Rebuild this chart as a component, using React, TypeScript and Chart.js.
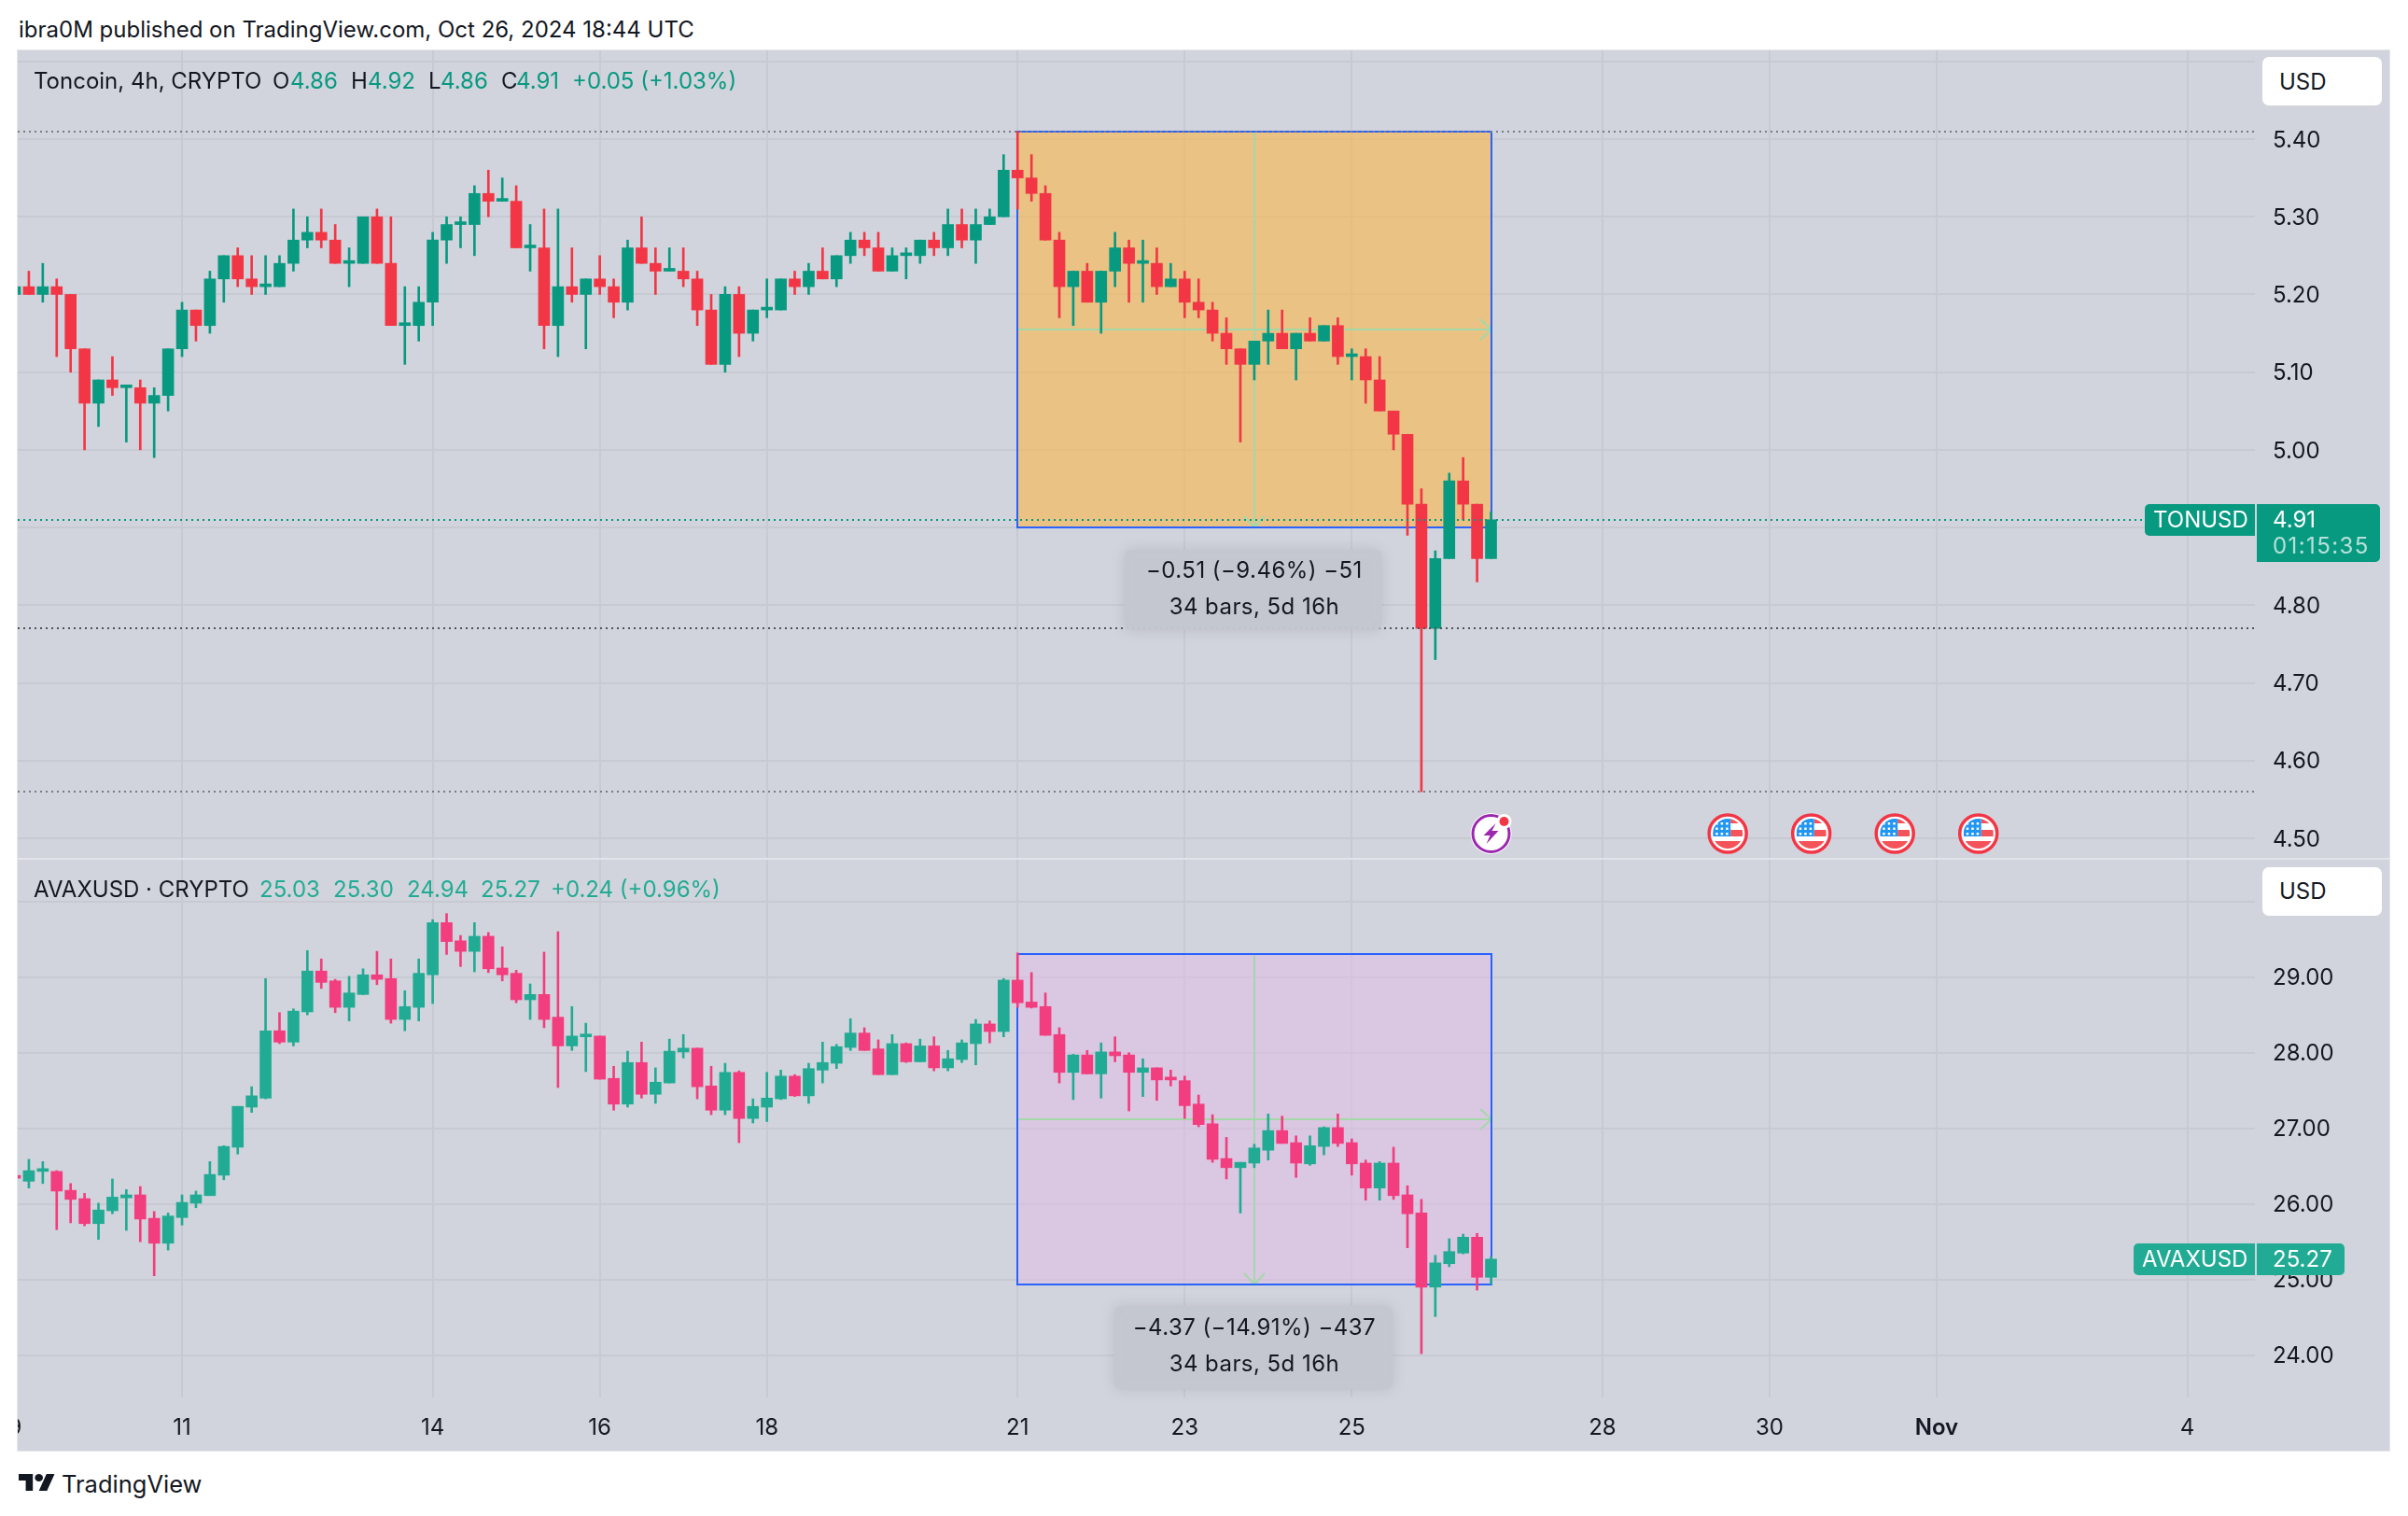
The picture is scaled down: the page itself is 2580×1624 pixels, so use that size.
import React, { useEffect, useRef } from "react";
import { Chart, registerables } from "chart.js";

Chart.register(...registerables);
Chart.defaults.font.family = "Inter, 'Noto Sans', sans-serif";

type Candle = [number, number, number, number];

// open, high, low, close
const tonCandles: Candle[] = [
  [5.20,5.21,5.20,5.21],[5.21,5.23,5.20,5.20],[5.20,5.24,5.19,5.21],[5.21,5.22,5.12,5.20],[5.20,5.20,5.10,5.13],
  [5.13,5.13,5.00,5.06],[5.06,5.09,5.03,5.09],[5.09,5.12,5.07,5.08],[5.08,5.08,5.01,5.08],[5.08,5.09,5.00,5.06],
  [5.06,5.08,4.99,5.07],[5.07,5.13,5.05,5.13],[5.13,5.19,5.12,5.18],[5.18,5.18,5.14,5.16],[5.16,5.23,5.15,5.22],
  [5.22,5.25,5.19,5.25],[5.25,5.26,5.21,5.22],[5.22,5.25,5.20,5.21],[5.21,5.25,5.20,5.21],[5.21,5.25,5.21,5.24],
  [5.24,5.31,5.23,5.27],[5.27,5.30,5.26,5.28],[5.28,5.31,5.26,5.27],[5.27,5.29,5.24,5.24],[5.24,5.26,5.21,5.24],
  [5.24,5.30,5.24,5.30],[5.30,5.31,5.24,5.24],[5.24,5.30,5.16,5.16],[5.16,5.21,5.11,5.16],[5.16,5.21,5.14,5.19],
  [5.19,5.28,5.16,5.27],[5.27,5.30,5.24,5.29],[5.29,5.30,5.26,5.29],[5.29,5.34,5.25,5.33],[5.33,5.36,5.30,5.32],
  [5.32,5.35,5.32,5.32],[5.32,5.34,5.26,5.26],[5.26,5.29,5.23,5.26],[5.26,5.31,5.13,5.16],[5.16,5.31,5.12,5.21],
  [5.21,5.26,5.19,5.20],[5.20,5.22,5.13,5.22],[5.22,5.25,5.20,5.21],[5.21,5.22,5.17,5.19],[5.19,5.27,5.18,5.26],
  [5.26,5.30,5.24,5.24],[5.24,5.26,5.20,5.23],[5.23,5.26,5.23,5.23],[5.23,5.26,5.21,5.22],[5.22,5.23,5.16,5.18],
  [5.18,5.20,5.11,5.11],[5.11,5.21,5.10,5.20],[5.20,5.21,5.12,5.15],[5.15,5.18,5.14,5.18],[5.18,5.22,5.17,5.18],
  [5.18,5.22,5.18,5.22],[5.22,5.23,5.20,5.21],[5.21,5.24,5.20,5.23],[5.23,5.26,5.22,5.22],[5.22,5.25,5.21,5.25],
  [5.25,5.28,5.24,5.27],[5.27,5.28,5.25,5.26],[5.26,5.28,5.23,5.23],[5.23,5.26,5.23,5.25],[5.25,5.26,5.22,5.25],
  [5.25,5.27,5.24,5.27],[5.27,5.28,5.25,5.26],[5.26,5.31,5.25,5.29],[5.29,5.31,5.26,5.27],[5.27,5.31,5.24,5.29],
  [5.29,5.31,5.29,5.30],[5.30,5.38,5.30,5.36],[5.36,5.41,5.31,5.35],[5.35,5.38,5.32,5.33],[5.33,5.34,5.27,5.27],
  [5.27,5.28,5.17,5.21],[5.21,5.23,5.16,5.23],[5.23,5.24,5.19,5.19],[5.19,5.23,5.15,5.23],[5.23,5.28,5.21,5.26],
  [5.26,5.27,5.19,5.24],[5.24,5.27,5.19,5.24],[5.24,5.26,5.20,5.21],[5.21,5.24,5.21,5.22],[5.22,5.23,5.17,5.19],
  [5.19,5.22,5.17,5.18],[5.18,5.19,5.14,5.15],[5.15,5.17,5.11,5.13],[5.13,5.13,5.01,5.11],[5.11,5.14,5.09,5.14],
  [5.14,5.18,5.11,5.15],[5.15,5.18,5.13,5.13],[5.13,5.15,5.09,5.15],[5.15,5.17,5.14,5.14],[5.14,5.16,5.14,5.16],
  [5.16,5.17,5.11,5.12],[5.12,5.13,5.09,5.12],[5.12,5.13,5.06,5.09],[5.09,5.12,5.05,5.05],[5.05,5.05,5.00,5.02],
  [5.02,5.02,4.89,4.93],[4.93,4.95,4.56,4.77],[4.77,4.87,4.73,4.86],[4.86,4.97,4.86,4.96],[4.96,4.99,4.91,4.93],
  [4.93,4.93,4.83,4.86],[4.86,4.92,4.86,4.91],
];

const avaxCandles: Candle[] = [
  [26.35,26.36,26.32,26.34],[26.30,26.59,26.21,26.44],[26.43,26.56,26.27,26.45],[26.43,26.44,25.66,26.17],[26.18,26.27,25.75,26.06],
  [26.07,26.14,25.71,25.74],[25.74,26.01,25.53,25.92],[25.91,26.33,25.87,26.09],[26.08,26.19,25.65,26.12],[26.12,26.23,25.50,25.80],
  [25.81,25.90,25.05,25.48],[25.48,25.88,25.39,25.84],[25.82,26.12,25.72,26.02],[26.01,26.17,25.95,26.12],[26.11,26.56,26.11,26.39],
  [26.38,26.77,26.32,26.76],[26.75,27.29,26.66,27.29],[27.28,27.55,27.21,27.43],[27.40,28.98,27.39,28.29],[28.29,28.53,28.12,28.14],
  [28.14,28.58,28.09,28.55],[28.54,29.35,28.50,29.08],[29.08,29.24,28.85,28.93],[28.95,28.97,28.53,28.60],[28.60,29.01,28.42,28.79],
  [28.77,29.11,28.77,29.03],[29.03,29.34,28.90,28.97],[28.98,29.24,28.39,28.44],[28.44,28.82,28.29,28.61],[28.60,29.24,28.42,29.05],
  [29.03,29.76,28.65,29.72],[29.72,29.84,29.30,29.47],[29.48,29.55,29.14,29.34],[29.34,29.72,29.07,29.54],[29.54,29.59,29.06,29.11],
  [29.12,29.40,28.95,29.03],[29.05,29.09,28.66,28.70],[28.70,28.91,28.44,28.77],[28.77,29.33,28.33,28.44],[28.47,29.60,27.54,28.09],
  [28.09,28.61,28.03,28.22],[28.21,28.39,27.75,28.23],[28.22,28.22,27.65,27.65],[27.66,27.82,27.24,27.32],[27.32,28.02,27.28,27.87],
  [27.87,28.14,27.40,27.45],[27.45,27.80,27.33,27.61],[27.60,28.18,27.60,28.02],[28.01,28.24,27.93,28.06],[28.06,28.06,27.39,27.55],
  [27.56,27.82,27.18,27.24],[27.24,27.86,27.18,27.74],[27.74,27.76,26.81,27.13],[27.13,27.39,27.07,27.29],[27.28,27.74,27.09,27.40],
  [27.39,27.77,27.38,27.69],[27.69,27.71,27.42,27.43],[27.43,27.86,27.33,27.79],[27.77,28.14,27.60,27.87],[27.86,28.11,27.79,28.08],
  [28.07,28.45,28.03,28.26],[28.26,28.33,28.03,28.03],[28.05,28.17,27.71,27.71],[27.71,28.24,27.71,28.12],[28.12,28.13,27.87,27.88],
  [27.88,28.18,27.88,28.09],[28.09,28.21,27.76,27.80],[27.80,28.03,27.76,27.92],[27.91,28.17,27.87,28.13],[28.12,28.44,27.84,28.38],
  [28.38,28.42,28.13,28.28],[28.28,28.98,28.21,28.96],[28.96,29.32,28.60,28.66],[28.67,29.06,28.59,28.60],[28.61,28.79,28.23,28.23],
  [28.24,28.33,27.60,27.74],[27.74,27.98,27.38,27.97],[27.97,28.03,27.72,27.72],[27.72,28.13,27.40,28.01],[28.01,28.21,27.88,27.96],
  [27.97,28.00,27.23,27.74],[27.74,27.92,27.42,27.80],[27.80,27.80,27.37,27.64],[27.66,27.77,27.56,27.64],[27.63,27.69,27.13,27.30],
  [27.32,27.44,27.02,27.05],[27.06,27.18,26.55,26.59],[26.60,26.88,26.33,26.48],[26.48,26.55,25.88,26.55],[26.54,26.79,26.48,26.74],
  [26.71,27.19,26.58,26.97],[26.97,27.16,26.80,26.80],[26.81,26.90,26.35,26.54],[26.53,26.90,26.51,26.77],[26.76,27.02,26.65,27.01],
  [27.01,27.19,26.76,26.80],[26.81,26.86,26.38,26.53],[26.54,26.58,26.05,26.21],[26.21,26.56,26.05,26.54],[26.54,26.75,26.06,26.11],
  [26.12,26.24,25.42,25.87],[25.88,26.06,24.02,24.90],[24.90,25.32,24.51,25.22],[25.21,25.54,25.17,25.37],[25.35,25.60,25.34,25.56],
  [25.56,25.61,24.86,25.03],[25.03,25.30,24.94,25.27],
];

const tonTicks = [5.5, 5.4, 5.3, 5.2, 5.1, 5.0, 4.9, 4.8, 4.7, 4.6, 4.5];
const avaxTicks = [30, 29, 28, 27, 26, 25, 24];
const xTickBars = [0, 12, 30, 42, 54, 72, 84, 96, 114, 126, 138, 156];
const xTickLabels = ["9", "11", "14", "16", "18", "21", "23", "25", "28", "30", "Nov", "4"];

const rangeStartBar = 72;
const rangeEndBar = 106;
const tonRange = [5.41, 4.9];
const avaxRange = [29.3, 24.93];
const tonDotted: [number, string][] = [[5.41, "#787b86"], [4.77, "#50535e"], [4.56, "#787b86"]];
const flagBars = [123, 129, 135, 141];
const boltBar = 106;

// pixel geometry of the page
const PANEL = { left: 19, top: 54, right: 2560, bottom: 1554 };
const PLOT_RIGHT = 2416;
const BAR_ORIGIN = 16;
const BAR_STEP = 14.92;
const AXIS_W = PANEL.right - PLOT_RIGHT;
const xMin = (PANEL.left - BAR_ORIGIN) / BAR_STEP;
const xMax = (PLOT_RIGHT - BAR_ORIGIN) / BAR_STEP;
const TEXT = "#131722";
const GRID = "#c7cad3";
const FONT = "24px Inter, sans-serif";

type Pane = {
  candles: Candle[];
  up: string;
  down: string;
  ticks: number[];
  hiddenTick: number;
  min: number;
  max: number;
  range: number[];
  fill: string;
  dotted: [number, string][];
  tagName: string;
  tagLeft: number;
  tagColor: string;
  tagValueW: number;
  countdown?: string;
  priceLine: boolean;
  box: { lines: string[]; left: number; right: number; gap: number; h: number };
  events: boolean;
  showX: boolean;
};

function drawFlag(ctx: CanvasRenderingContext2D, x: number, y: number) {
  ctx.save();
  ctx.beginPath();
  ctx.arc(x, y, 20, 0, Math.PI * 2);
  ctx.fillStyle = "#ffffff";
  ctx.fill();
  ctx.lineWidth = 3.5;
  ctx.strokeStyle = "#f23645";
  ctx.stroke();
  ctx.beginPath();
  ctx.arc(x, y, 16, 0, Math.PI * 2);
  ctx.clip();
  ctx.fillStyle = "#f4535a";
  ctx.fillRect(x + 3, y - 16, 14, 5);
  ctx.fillRect(x + 3, y - 4, 14, 7);
  ctx.fillRect(x - 16, y + 8, 32, 8);
  ctx.fillStyle = "#2196f3";
  ctx.fillRect(x - 16, y - 16, 19, 19);
  ctx.fillStyle = "#ffffff";
  for (let r = 0; r < 3; r++) {
    for (let c = 0; c < 3; c++) {
      ctx.fillRect(x - 13 + c * 5.5, y - 12 + r * 5.5, 2.5, 2.5);
    }
  }
  ctx.restore();
}

function drawBolt(ctx: CanvasRenderingContext2D, x: number, y: number) {
  ctx.save();
  ctx.beginPath();
  ctx.arc(x, y, 22, 0, Math.PI * 2);
  ctx.fillStyle = "#ffffff";
  ctx.fill();
  ctx.beginPath();
  ctx.arc(x, y, 19.5, 0, Math.PI * 2);
  ctx.lineWidth = 3;
  ctx.strokeStyle = "#9c27b0";
  ctx.stroke();
  ctx.beginPath();
  const pts = [[5, -11], [-8, 2], [-1, 2], [-5, 11], [8, -3], [1, -3]];
  pts.forEach(([a, b], i) => (i ? ctx.lineTo(x + a, y + b) : ctx.moveTo(x + a, y + b)));
  ctx.closePath();
  ctx.fillStyle = "#9c27b0";
  ctx.fill();
  ctx.beginPath();
  ctx.arc(x + 14, y - 13, 8, 0, Math.PI * 2);
  ctx.fillStyle = "#ffffff";
  ctx.fill();
  ctx.beginPath();
  ctx.arc(x + 14, y - 13, 5, 0, Math.PI * 2);
  ctx.fillStyle = "#f23645";
  ctx.fill();
  ctx.restore();
}

function overlayPlugin(pane: Pane) {
  return {
    id: "overlay",
    beforeDatasetsDraw(chart: any) {
      const { ctx, scales } = chart;
      const x0 = Math.round(scales.x.getPixelForValue(rangeStartBar));
      const x1 = Math.round(scales.x.getPixelForValue(rangeEndBar));
      const y0 = Math.round(scales.y.getPixelForValue(pane.range[0]));
      const y1 = Math.round(scales.y.getPixelForValue(pane.range[1]));
      const xm = Math.round((x0 + x1) / 2);
      const ym = Math.round((y0 + y1) / 2);
      ctx.save();
      ctx.fillStyle = pane.fill;
      ctx.fillRect(x0, y0, x1 - x0, y1 - y0);
      ctx.strokeStyle = "#a3d9a8";
      ctx.lineWidth = 2;
      ctx.beginPath();
      ctx.moveTo(x0, ym);
      ctx.lineTo(x1, ym);
      ctx.moveTo(x1 - 12, ym - 11);
      ctx.lineTo(x1, ym);
      ctx.lineTo(x1 - 12, ym + 11);
      ctx.moveTo(xm, y0);
      ctx.lineTo(xm, y1);
      ctx.moveTo(xm - 11, y1 - 12);
      ctx.lineTo(xm, y1);
      ctx.lineTo(xm + 11, y1 - 12);
      ctx.stroke();
      ctx.strokeStyle = "#2962ff";
      ctx.strokeRect(x0, y0, x1 - x0, y1 - y0);
      ctx.restore();
    },
    afterDatasetsDraw(chart: any) {
      const { ctx, scales, chartArea } = chart;
      const toChartX = (px: number) => px - PANEL.left;
      ctx.save();
      ctx.lineWidth = 2;
      ctx.setLineDash([2, 4]);
      pane.dotted.forEach(([v, color]) => {
        const y = Math.round(scales.y.getPixelForValue(v));
        ctx.strokeStyle = color;
        ctx.beginPath();
        ctx.moveTo(chartArea.left, y);
        ctx.lineTo(chartArea.right, y);
        ctx.stroke();
      });
      const last = pane.candles[pane.candles.length - 1];
      const closeY = scales.y.getPixelForValue(last[3]);
      const tagX = toChartX(pane.tagLeft);
      if (pane.priceLine) {
        ctx.strokeStyle = pane.tagColor;
        ctx.beginPath();
        ctx.moveTo(chartArea.left, Math.round(closeY));
        ctx.lineTo(tagX, Math.round(closeY));
        ctx.stroke();
      }
      ctx.setLineDash([]);

      // measurement label box
      const xm = scales.x.getPixelForValue((rangeStartBar + rangeEndBar) / 2);
      const boxTop = scales.y.getPixelForValue(pane.range[1]) + pane.box.gap;
      ctx.save();
      ctx.shadowColor = "rgba(140,143,155,0.35)";
      ctx.shadowBlur = 14;
      ctx.fillStyle = "rgba(196,199,208,0.95)";
      ctx.beginPath();
      ctx.roundRect(toChartX(pane.box.left), boxTop, pane.box.right - pane.box.left, pane.box.h, 6);
      ctx.fill();
      ctx.restore();
      ctx.font = FONT;
      ctx.fillStyle = TEXT;
      ctx.textAlign = "center";
      ctx.textBaseline = "middle";
      ctx.letterSpacing = "0.45px";
      pane.box.lines.forEach((t, i) => ctx.fillText(t, xm, boxTop + 23 + i * 39));
      ctx.letterSpacing = "0px";

      // price tag on the axis
      const tagTop = Math.round(closeY) - 17;
      const axisLeft = toChartX(PLOT_RIGHT + 2);
      ctx.fillStyle = pane.tagColor;
      ctx.beginPath();
      ctx.roundRect(tagX, tagTop, toChartX(PLOT_RIGHT) - tagX, 34, [5, 0, 0, 5]);
      ctx.fill();
      ctx.beginPath();
      ctx.roundRect(axisLeft, tagTop, pane.tagValueW, pane.countdown ? 62 : 34, [0, 5, 5, 0]);
      ctx.fill();
      ctx.fillStyle = "#ffffff";
      ctx.textAlign = "left";
      ctx.fillText(pane.tagName, tagX + 9, tagTop + 18);
      ctx.fillText(last[3].toFixed(2), axisLeft + 17, tagTop + 18);
      if (pane.countdown) {
        ctx.fillStyle = "rgba(255,255,255,0.7)";
        ctx.letterSpacing = "1.4px";
        ctx.fillText(pane.countdown, axisLeft + 17, tagTop + 46);
        ctx.letterSpacing = "0px";
      }

      if (pane.events) {
        const y = 893 - PANEL.top;
        drawBolt(ctx, scales.x.getPixelForValue(boltBar), y);
        flagBars.forEach((b) => drawFlag(ctx, scales.x.getPixelForValue(b), y));
      }
      ctx.restore();
    },
  };
}

const noPadding = (s: any) => {
  s.paddingLeft = 0;
  s.paddingRight = 0;
  s.paddingTop = 0;
  s.paddingBottom = 0;
};

function PaneChart({ pane, top, height }: { pane: Pane; top: number; height: number }) {
  const ref = useRef<HTMLCanvasElement>(null);
  useEffect(() => {
    const colors = pane.candles.map((c) => (c[3] >= c[0] ? pane.up : pane.down));
    const chart = new Chart(ref.current as HTMLCanvasElement, {
      type: "bar",
      data: {
        datasets: [
          {
            label: "body",
            data: pane.candles.map((c, i) => ({ x: i, y: [c[0], c[3]] })),
            backgroundColor: colors,
            barThickness: 12,
            minBarLength: 3,
            grouped: false,
          } as any,
          {
            label: "wick",
            data: pane.candles.map((c, i) => ({ x: i, y: [c[2], c[1]] })),
            backgroundColor: colors,
            barThickness: 2,
            grouped: false,
          } as any,
        ],
      },
      options: {
        responsive: false,
        animation: false,
        devicePixelRatio: 1,
        layout: { autoPadding: false, padding: 0 },
        plugins: { legend: { display: false }, tooltip: { enabled: false } },
        scales: {
          x: {
            type: "linear",
            min: xMin,
            max: xMax,
            offset: false,
            grid: { color: GRID, lineWidth: 2, tickLength: 0, offset: false },
            border: { display: false },
            afterBuildTicks: (s: any) => {
              s.ticks = xTickBars.map((v) => ({ value: v }));
            },
            afterFit: (s: any) => {
              s.height = pane.showX ? 57 : 0;
              noPadding(s);
            },
            ticks: {
              display: pane.showX,
              autoSkip: false,
              maxRotation: 0,
              padding: 18,
              color: TEXT,
              font: (c: any) => ({ size: 24, weight: c.tick && c.tick.label === "Nov" ? 600 : 400 }),
              callback: (v: any) => xTickLabels[xTickBars.indexOf(Number(v))],
            },
          },
          y: {
            type: "linear",
            position: "right",
            min: pane.min,
            max: pane.max,
            grid: { color: GRID, lineWidth: 2, tickLength: 0 },
            border: { display: false },
            afterBuildTicks: (s: any) => {
              s.ticks = pane.ticks.map((v) => ({ value: v }));
            },
            afterFit: (s: any) => {
              s.width = AXIS_W;
              noPadding(s);
            },
            ticks: {
              autoSkip: false,
              padding: 19,
              labelOffset: 1.5,
              color: TEXT,
              font: { size: 24 },
              callback: (v: any) => (Number(v) === pane.hiddenTick ? "" : Number(v).toFixed(2)),
            },
          },
        },
      } as any,
      plugins: [overlayPlugin(pane)],
    });
    return () => chart.destroy();
  }, [pane]);
  return (
    <canvas
      ref={ref}
      width={PANEL.right - PANEL.left}
      height={height}
      style={{ position: "absolute", left: PANEL.left, top, width: PANEL.right - PANEL.left, height }}
    />
  );
}

const tonPane: Pane = {
  candles: tonCandles,
  up: "#089981",
  down: "#f23645",
  ticks: tonTicks,
  hiddenTick: 5.5,
  min: 5.4 - (919 - 149) / 832.2,
  max: 5.4 + (149 - 54) / 832.2,
  range: tonRange,
  fill: "rgba(249,182,73,0.6)",
  dotted: tonDotted,
  tagName: "TONUSD",
  tagLeft: 2298,
  tagColor: "#089981",
  tagValueW: 132,
  countdown: "01:15:35",
  priceLine: true,
  box: { lines: ["−0.51 (−9.46%) −51", "34 bars, 5d 16h"], left: 1205, right: 1480, gap: 24, h: 86 },
  events: true,
  showX: false,
};

const avaxPane: Pane = {
  candles: avaxCandles,
  up: "#22ab94",
  down: "#f23d7e",
  ticks: avaxTicks,
  hiddenTick: 30,
  min: 29 - (1497 - 1046.7) / 81,
  max: 29 + (1046.7 - 921) / 81,
  range: avaxRange,
  fill: "rgba(227,186,232,0.5)",
  dotted: [],
  tagName: "AVAXUSD",
  tagLeft: 2286,
  tagColor: "#22ab94",
  tagValueW: 94,
  priceLine: false,
  box: { lines: ["−4.37 (−14.91%) −437", "34 bars, 5d 16h"], left: 1194, right: 1492, gap: 23, h: 89 },
  events: false,
  showX: true,
};

function Label({ x, y, text, color = TEXT, size = 24 }: { x: number; y: number; text: string; color?: string; size?: number }) {
  return (
    <span
      style={{
        position: "absolute",
        left: x,
        top: y,
        transform: "translateY(-50%)",
        color,
        fontFamily: "Inter, sans-serif",
        fontSize: size,
        lineHeight: 1,
        whiteSpace: "nowrap",
      }}
    >
      {text}
    </span>
  );
}

function UsdButton({ top, textY }: { top: number; textY: number }) {
  return (
    <div
      style={{
        position: "absolute",
        left: 2424,
        top,
        width: 128,
        height: 52,
        borderRadius: 7,
        background: "#ffffff",
      }}
    >
      <Label x={18} y={textY} text="USD" />
    </div>
  );
}

export default function App() {
  const g1 = "#089981";
  const g2 = "#22ab94";
  return (
    <div style={{ position: "absolute", left: 0, top: 0, width: 2580, height: 1624, background: "#ffffff", overflow: "hidden" }}>
      <Label x={20} y={32} text="ibra0M published on TradingView.com, Oct 26, 2024 18:44 UTC" />
      <div
        style={{
          position: "absolute",
          left: PANEL.left,
          top: PANEL.top,
          width: PANEL.right - PANEL.left,
          height: PANEL.bottom - PANEL.top,
          background: "#d1d4dc",
          boxShadow: "0 0 0 1px #e4e6ec",
        }}
      />
      <PaneChart pane={tonPane} top={54} height={865} />
      <div style={{ position: "absolute", left: PANEL.left, top: 919, width: PANEL.right - PANEL.left, height: 2, background: "#e2e4ea" }} />
      <PaneChart pane={avaxPane} top={921} height={633} />

      <Label x={36} y={87} text="Toncoin, 4h, CRYPTO" />
      <Label x={292} y={87} text="O" />
      <Label x={311} y={87} text="4.86" color={g1} />
      <Label x={376} y={87} text="H" />
      <Label x={394} y={87} text="4.92" color={g1} />
      <Label x={459} y={87} text="L" />
      <Label x={472} y={87} text="4.86" color={g1} />
      <Label x={537} y={87} text="C" />
      <Label x={553} y={87} text="4.91" color={g1} />
      <Label x={613} y={87} text="+0.05 (+1.03%)" color={g1} />

      <Label x={36} y={953} text="AVAXUSD · CRYPTO" />
      <Label x={278} y={953} text="25.03" color={g2} />
      <Label x={357} y={953} text="25.30" color={g2} />
      <Label x={436} y={953} text="24.94" color={g2} />
      <Label x={515} y={953} text="25.27" color={g2} />
      <Label x={590} y={953} text="+0.24 (+0.96%)" color={g2} />

      <UsdButton top={61} textY={27} />
      <UsdButton top={929} textY={26} />

      <svg style={{ position: "absolute", left: 20, top: 1575 }} width={39} height={28} viewBox="0 0 36 28" preserveAspectRatio="none">
        <path d="M14 22H7V11H0V4h14v18zM28 22h-8l7.5-18h8L28 22z" fill={TEXT} />
        <circle cx="20" cy="8" r="4" fill={TEXT} />
      </svg>
      <Label x={66} y={1590} text="TradingView" size={25.5} />
    </div>
  );
}
